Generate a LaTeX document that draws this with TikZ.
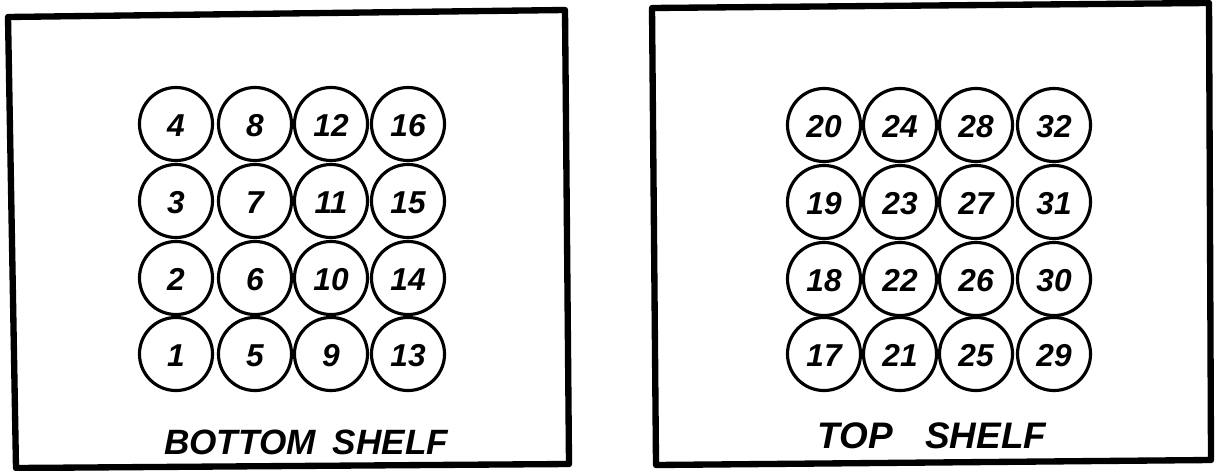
\documentclass[tikz,border=0pt]{standalone}
\usepackage{fontspec}
\newfontfamily\handfont{Liberation Sans}

\begin{document}
\begin{tikzpicture}[x=0.01cm, y=-0.01cm,
    bin/.style={circle, draw, line width=0.9pt, minimum size=0.73cm, inner sep=0pt,
      text height=1.6ex, text depth=0pt,
      font=\handfont\bfseries\itshape\fontsize{9}{11}\selectfont},
    shelf/.style={font=\handfont\bfseries\itshape\fontsize{10}{12}\selectfont}]
  \useasboundingbox (0,0) rectangle (1216,470);
  % bottom shelf
  \coordinate (LA) at (8,17);
  \coordinate (LB) at (565,10);
  \coordinate (LC) at (569,464);
  \coordinate (LD) at (16,468);
  \draw[line width=1.8pt, line join=round] (LA) -- (LB) -- (LC) -- (LD) -- cycle;
  % top shelf
  \coordinate (RA) at (652,8);
  \coordinate (RB) at (1209,3);
  \coordinate (RC) at (1211,460);
  \coordinate (RD) at (656,465);
  \draw[line width=1.8pt, line join=round] (RA) -- (RB) -- (RC) -- (RD) -- cycle;
  % bins, numbered up each column
  \foreach \c/\x in {0/176, 1/255, 2/331, 3/408} {
    \foreach \r/\y in {0/354, 1/278, 2/201, 3/124} {
      \pgfmathtruncatemacro{\n}{4*\c+\r+1}
      \node[bin] (b\n) at (\x,\y) {\n};
    }
  }
  \foreach \c/\x in {0/824, 1/900, 2/976, 3/1054} {
    \foreach \r/\y in {0/354, 1/279, 2/202, 3/125} {
      \pgfmathtruncatemacro{\n}{16+4*\c+\r+1}
      \node[bin] (b\n) at (\x,\y) {\n};
    }
  }
  \node[shelf] (bottom) at (306,442) {BOTTOM\hspace{0.17cm}SHELF};
  \node[shelf, font=\handfont\bfseries\itshape\fontsize{10.5}{12}\selectfont]
    (top) at (932,436) {TOP\hspace{0.32cm}SHELF};
\end{tikzpicture}
\end{document}
